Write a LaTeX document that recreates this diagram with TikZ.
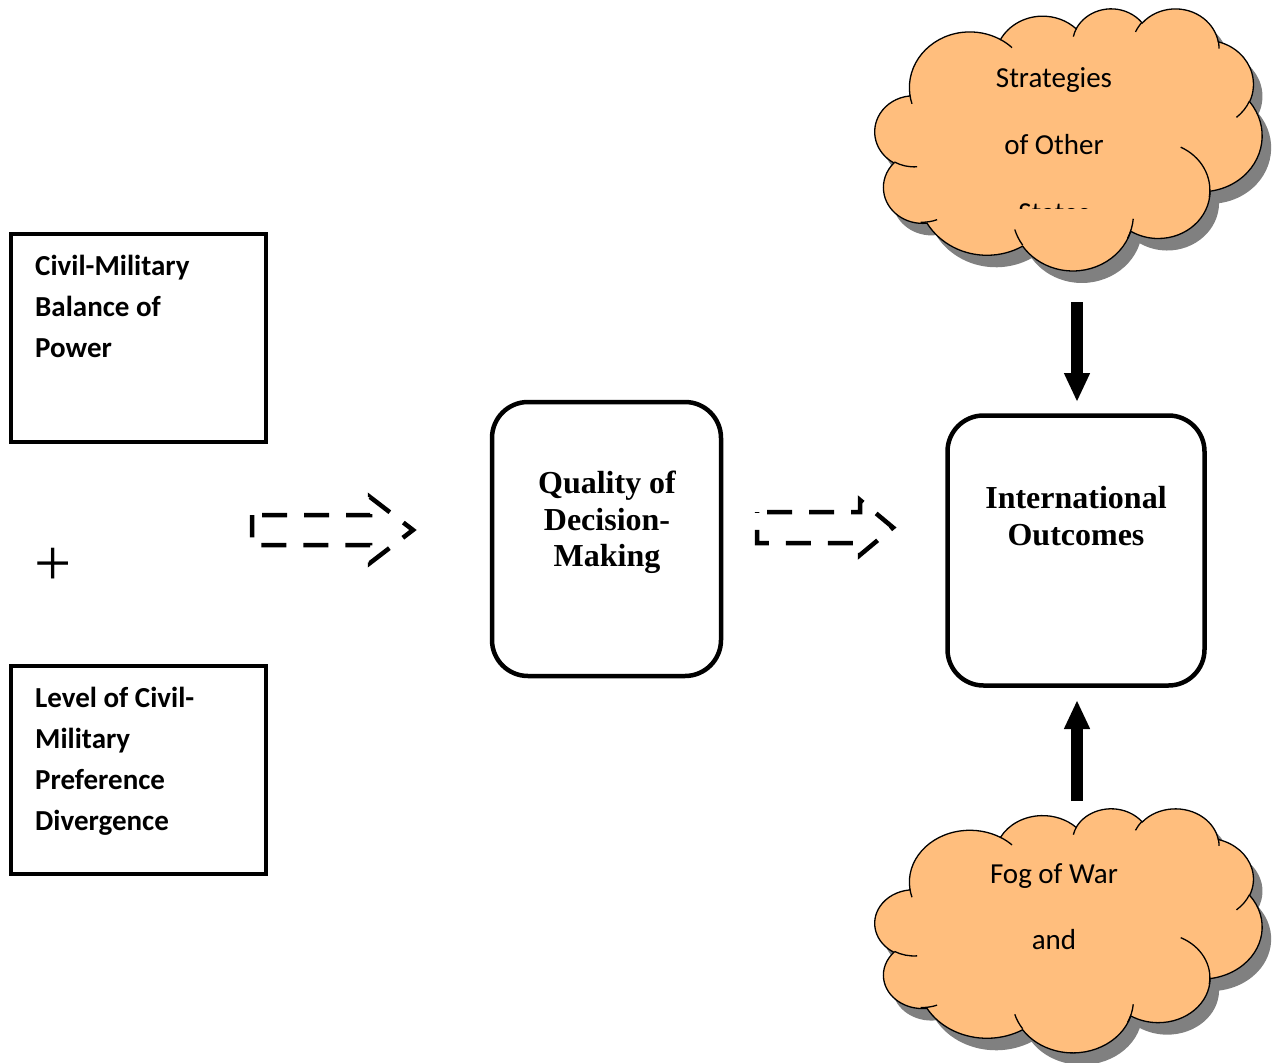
\documentclass[tikz,border=0pt]{standalone}
\usepackage{fontspec}
\setmainfont{Carlito}
\newfontfamily\timesf{Liberation Serif}
\usetikzlibrary{arrows.meta}
\definecolor{cloudfill}{RGB}{255,190,125}
\definecolor{shadowgray}{RGB}{128,128,128}
% arc with DrawingML-style visual angles (wR, hR, stAng, swAng)
\newcommand\carc[4]{\pgfextra{%
  \pgfmathsetmacro\cta{atan2((#1)*sin(#3),(#2)*cos(#3))}%
  \pgfmathsetmacro\ctb{atan2((#1)*sin((#3)+(#4)),(#2)*cos((#3)+(#4)))}%
  \pgfmathsetmacro\ctd{mod(\ctb-\cta+720,360)}%
 } arc[start angle=\cta, delta angle=\ctd, x radius=#1, y radius=#2]}
\newcommand\cloudmain{(39.00,143.70)
  \carc{67.53}{91.90}{-190.487}{123.781}
  \carc{53.33}{72.67}{-144.102}{89.945}
  \carc{43.65}{59.45}{-145.808}{99.723}
  \carc{48.57}{65.95}{-130.986}{117.242}
  \carc{53.33}{72.73}{-78.709}{109.027}
  \carc{67.75}{92.20}{-46.267}{130.269}
  \carc{57.85}{78.67}{0.625}{114.033}
  \carc{67.52}{92.15}{22.452}{115.173}
  \carc{77.20}{105.43}{66.243}{75.711}
  \carc{43.60}{59.18}{-274.942}{146.736}
  \carc{43.45}{59.45}{-246.829}{152.519} -- cycle}
\newcommand\cloudinner{
  (46.93,261.77) \carc{43.45}{59.45}{86.742}{26.430}
  (69.28,348.99) \carc{43.60}{59.18}{73.610}{18.412}
  (164.78,390.90) \carc{67.52}{92.15}{137.624}{20.866}
  (288.27,347.51) \carc{67.52}{92.15}{6.453}{26.389}
  (341.29,229.54) \carc{57.85}{78.67}{-70.292}{81.799}
  (417.98,153.54) \carc{53.33}{72.73}{30.318}{27.752}
  (383.24,54.26) \carc{48.57}{65.95}{-13.744}{14.858}
  (290.78,39.52) \carc{48.57}{65.95}{-149.181}{18.195}
  (221.41,47.20) \carc{43.65}{59.45}{-163.494}{17.686}
  (140.00,51.92) \carc{67.53}{91.90}{-66.707}{12.319}
  (41.27,157.89) \carc{67.53}{91.90}{157.654}{11.858}}
\begin{document}
\begin{tikzpicture}[x=1pt,y=-1pt,
  sqbox/.style={draw, line width=4.5pt, minimum width=255pt, minimum height=208pt, inner sep=0pt, outer sep=0pt, anchor=north west},
  rbox/.style={draw, line width=4.5pt, rounded corners=36pt, inner sep=0pt, outer sep=0pt},
  lbl/.style={font=\fontsize{29}{35}\selectfont\bfseries, anchor=base west, inner sep=0pt},
  stitle/.style={font=\timesf\bfseries\fontsize{32}{38}\selectfont, anchor=base, inner sep=0pt},
  ctext/.style={font=\fontsize{29}{35}\selectfont, anchor=base, inner sep=0pt},
  cloudline/.style={draw=black, line width=1.3pt},
  dasharrow/.style={draw=black, line width=4.5pt, dash pattern=on 25pt off 17pt, dash phase=32pt},
  bigarrow/.style={draw=black, line width=12pt, -{Triangle[width=24pt,length=29pt]}}]
\useasboundingbox (0,0) rectangle (1278,1063);

% left boxes
\node[sqbox] (cmb) at (11,234) {};
\node[lbl] (cmb1) at (35,275) {Civil-Military};
\node[lbl] (cmb2) at (35,316) {Balance of};
\node[lbl] (cmb3) at (35,357) {Power};

\node[sqbox] (pref) at (11,666) {};
\node[lbl] (pref1) at (35,707) {Level of Civil-};
\node[lbl] (pref2) at (35,748) {Military};
\node[lbl] (pref3) at (35,789) {Preference};
\node[lbl] (pref4) at (35,830) {Divergence};

\node[font=\timesf\fontsize{66}{66}\selectfont, inner sep=0pt] (plus) at (53,567) {+};

% middle and right boxes
\node[rbox, minimum width=229pt, minimum height=274pt] (qdm) at (606.5,539) {};
\node[stitle] (qdm1) at (607,493.5) {Quality of};
\node[stitle] (qdm2) at (607,530.5) {Decision-};
\node[stitle] (qdm3) at (607,566.5) {Making};

\node[rbox, minimum width=257pt, minimum height=270pt] (io) at (1076,550.5) {};
\node[stitle] (io1) at (1076,508.5) {International};
\node[stitle] (io2) at (1076,545.5) {Outcomes};

% dashed block arrows
\coordinate (da1) at (252,530);
\draw[dasharrow] (da1) ++(0,-15) -- ++(118,0) -- ++(0,-18) -- ++(43,33) -- ++(-43,33) -- ++(0,-18) -- ++(-118,0) -- cycle;
\coordinate (da2) at (757,527.5);
\draw[dasharrow] (da2) ++(0,-15.5) -- ++(103,0) -- ++(0,-12) -- ++(33,27.5) -- ++(-33,27.5) -- ++(0,-12) -- ++(-103,0) -- cycle;

% cloud 1
\begin{scope}[shift={(884,20)}]
  \begin{scope}[x=0.895833pt, y=-0.6065pt]
    \fill[shadowgray] \cloudmain;
  \end{scope}
\end{scope}
\begin{scope}[shift={(875,8)}]
  \begin{scope}[x=0.895833pt, y=-0.6065pt]
    \path[fill=cloudfill, cloudline] \cloudmain;
    \draw[cloudline] \cloudinner;
  \end{scope}
\end{scope}
\node[ctext] (sos1) at (1054,87) {Strategies};
\node[ctext] (sos2) at (1054,154) {of Other};
\begin{scope}
  \clip (950,150) rectangle (1160,208);
  \node[ctext] (sos3) at (1054,222) {States};
\end{scope}

% cloud 2
\begin{scope}[shift={(884,820)}]
  \begin{scope}[x=0.895833pt, y=-0.5648pt]
    \fill[shadowgray] \cloudmain;
  \end{scope}
\end{scope}
\begin{scope}[shift={(875,808)}]
  \begin{scope}[x=0.895833pt, y=-0.5648pt]
    \path[fill=cloudfill, cloudline] \cloudmain;
    \draw[cloudline] \cloudinner;
  \end{scope}
\end{scope}
\node[ctext] (fog1) at (1054,883) {Fog of War};
\node[ctext] (fog2) at (1054,949) {and};

% thick arrows
\coordinate (sosb) at (1077,302);
\coordinate (fogt) at (1077,801);
\draw[bigarrow] (sosb) -- ([xshift=1pt]io.north |- 0,402);
\draw[bigarrow] (fogt) -- (1077,700);
\end{tikzpicture}
\end{document}
